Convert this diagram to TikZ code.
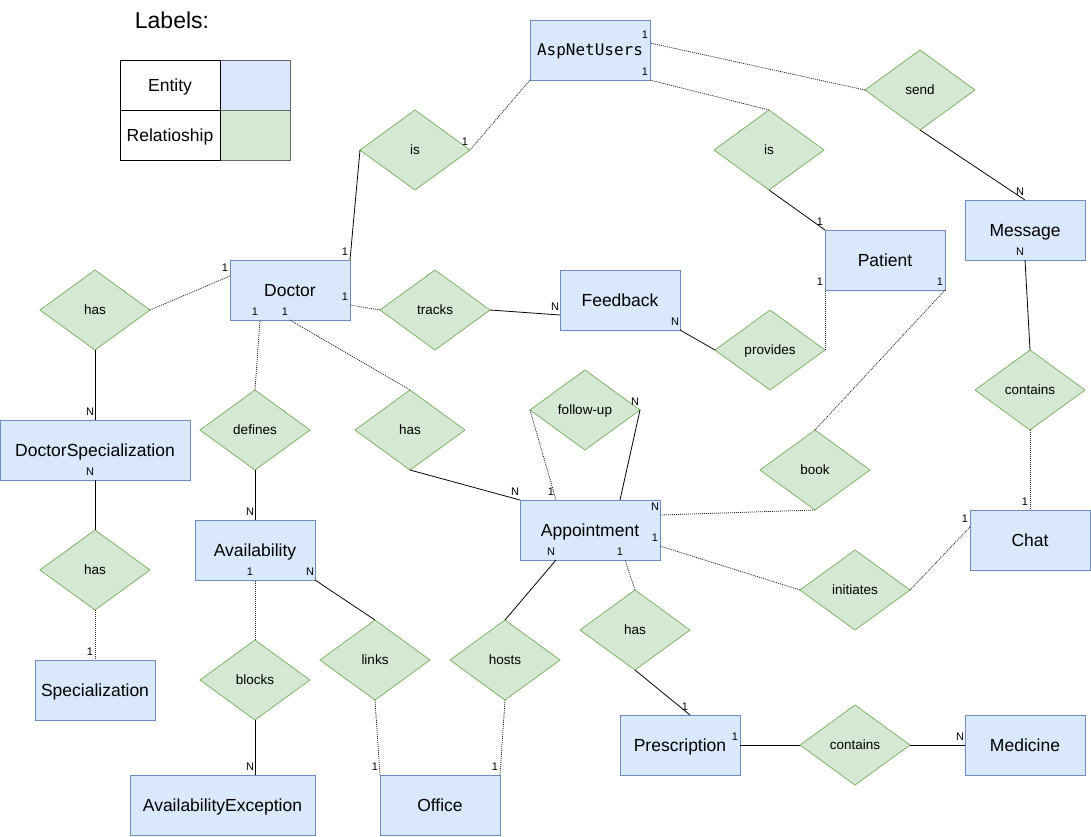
\documentclass[tikz,border=0pt]{standalone}
\usepackage{fontspec}
\setmainfont{Liberation Sans}
\newfontfamily\aspfont{DejaVu Sans Mono}
\usetikzlibrary{shapes.geometric,calc}
\definecolor{entfill}{HTML}{DAE8FC}
\definecolor{entdraw}{HTML}{6C8EBF}
\definecolor{relfill}{HTML}{D5E8D4}
\definecolor{reldraw}{HTML}{82B366}
\tikzset{
  entity/.style={rectangle, draw=entdraw, fill=entfill, minimum width=120pt, minimum height=60pt,
    inner sep=0pt, outer sep=0pt, font=\fontsize{17.5}{20}\selectfont, text height=12.5pt, text depth=0pt},
  relation/.style={diamond, draw=reldraw, fill=relfill, minimum width=110pt, minimum height=80pt,
    inner sep=0pt, outer sep=0pt, font=\fontsize{13.5}{16}\selectfont, text height=9.7pt, text depth=0pt},
  card/.style={font=\fontsize{11}{11}\selectfont, text height=7.9pt, text depth=0pt, inner sep=0pt,
    xshift=-5pt, yshift=8.5pt},
  weak/.style={draw=black!85, dash pattern=on 1pt off 1pt},
  legcell/.style={rectangle, draw=black, fill=white, minimum width=100pt, minimum height=50pt, inner sep=0pt,
    font=\fontsize{17.5}{20}\selectfont, text height=12.5pt, text depth=0pt},
  legswatch/.style={rectangle, draw=black!60, minimum width=70pt, minimum height=50pt, inner sep=0pt}
}
\begin{document}
\begin{tikzpicture}[x=1pt, y=-1pt, line width=0.8pt]
\useasboundingbox (0,0) rectangle (1091,836);
\node (labels) at (172,20) [font=\fontsize{23}{26}\selectfont, text height=16.5pt, text depth=0pt] {Labels:};
\node (entswatch) at (255,85) [legswatch, fill=entfill] {};
\node (relswatch) at (255,135) [legswatch, fill=relfill] {};
\node (legent) at (170,85) [legcell] {Entity};
\node (legrel) at (170,135) [legcell] {Relatioship};

\node (aspnet) at (590,50) [entity, font=\aspfont\fontsize{16}{18}\selectfont, text height=11.7pt] {AspNetUsers};
\node (doctor) at (290,290) [entity] {Doctor};
\node (feedback) at (620,300) [entity] {Feedback};
\node (patient) at (885,260) [entity] {Patient};
\node (message) at (1025,230) [entity] {Message};
\node (docspec) at (95,450) [entity, minimum width=190pt] {DoctorSpecialization};
\node (avail) at (255,550) [entity] {Availability};
\node (appt) at (590,530) [entity, minimum width=140pt] {Appointment};
\node (chat) at (1030,540) [entity] {Chat};
\node (spec) at (95,690) [entity] {Specialization};
\node (availex) at (222.5,805) [entity, minimum width=185pt] {AvailabilityException};
\node (office) at (440,805) [entity] {Office};
\node (presc) at (680,745) [entity] {Prescription};
\node (medicine) at (1025,745) [entity] {Medicine};

\node (isdoc) at (415,150) [relation] {is};
\node (ispat) at (769,150) [relation] {is};
\node (send) at (920,90) [relation] {send};
\node (hasspec) at (95,310) [relation] {has};
\node (tracks) at (435,310) [relation] {tracks};
\node (provides) at (770,350) [relation] {provides};
\node (defines) at (255,430) [relation] {defines};
\node (hasappt) at (410,430) [relation] {has};
\node (followup) at (585,410) [relation] {follow-up};
\node (book) at (815,470) [relation] {book};
\node (containsmsg) at (1030,390) [relation] {contains};
\node (hasspecial) at (95,570) [relation] {has};
\node (blocks) at (255,680) [relation] {blocks};
\node (links) at (375,660) [relation] {links};
\node (hosts) at (505,660) [relation] {hosts};
\node (hasprsc) at (635,630) [relation] {has};
\node (initiates) at (855,590) [relation] {initiates};
\node (containsmed) at (855,745) [relation] {contains};

\draw (isdoc.west) -- (doctor.north east) node[card] {1};
\draw[weak] (aspnet.south west) -- (isdoc.east) node[card] {1};
\draw[weak] (send.west) -- ($(aspnet.east)+(0,-7)$) node[card] {1};
\draw[weak] (ispat.north) -- (aspnet.south east) node[card] {1};
\draw (ispat.south) -- (patient.north west) node[card] {1};
\draw (send.south) -- (message.north) node[card] {N};
\draw (containsmsg.north) -- (message.south) node[card] {N};
\draw[weak] (containsmsg.south) -- (chat.north) node[card] {1};
\draw[weak] (initiates.east) -- ($(chat.west)+(0,-13)$) node[card] {1};
\draw[weak] (initiates.west) -- ($(appt.east)+(0,16)$) node[card] {1};
\draw[weak] (book.south) -- ($(appt.east)+(0,-15)$) node[card] {N};
\draw[weak] (book.north) -- (patient.south east) node[card] {1};
\draw[weak] (provides.east) -- (patient.south west) node[card] {1};
\draw (provides.west) -- (feedback.south east) node[card] {N};
\draw (tracks.east) -- ($(feedback.west)+(0,15)$) node[card] {N};
\draw[weak] (tracks.west) -- ($(doctor.east)+(0,15)$) node[card] {1};
\draw[weak] (hasspec.east) -- ($(doctor.west)+(0,-14)$) node[card] {1};
\draw (hasspec.south) -- (docspec.north) node[card] {N};
\draw (hasspecial.north) -- (docspec.south) node[card] {N};
\draw[weak] (hasspecial.south) -- (spec.north) node[card] {1};
\draw[weak] (defines.north) -- ($(doctor.south)+(-30,0)$) node[card] {1};
\draw (defines.south) -- (avail.north) node[card] {N};
\draw[weak] (hasappt.north) -- (doctor.south) node[card] {1};
\draw (hasappt.south) -- (appt.north west) node[card] {N};
\draw[weak] (followup.west) -- ($(appt.north)+(-34,0)$) node[card] {1};
\draw ($(appt.north)+(30,0)$) -- (followup.east) node[card] {N};
\draw (hosts.north) -- ($(appt.south)+(-34,0)$) node[card] {N};
\draw[weak] (hosts.south) -- (office.north east) node[card] {1};
\draw[weak] (hasprsc.north) -- ($(appt.south)+(35,0)$) node[card] {1};
\draw (hasprsc.south) -- ($(presc.north)+(10,0)$) node[card] {1};
\draw (containsmed.west) -- (presc.east) node[card] {1};
\draw (containsmed.east) -- (medicine.west) node[card] {N};
\draw[weak] (blocks.north) -- (avail.south) node[card] {1};
\draw (blocks.south) -- (blocks.south |- availex.north) node[card] {N};
\draw (links.north) -- (avail.south east) node[card] {N};
\draw[weak] (links.south) -- (office.north west) node[card] {1};
\end{tikzpicture}
\end{document}
